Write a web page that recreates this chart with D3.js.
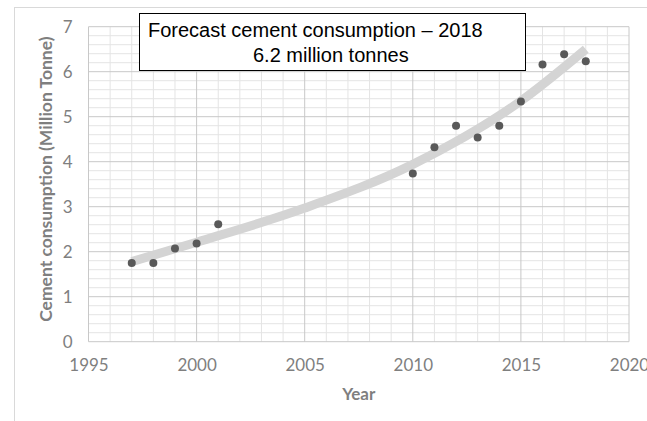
<!DOCTYPE html>
<html>
<head>
<meta charset="utf-8">
<script src="https://cdn.jsdelivr.net/npm/d3@7"></script>
<style>
  html, body { margin: 0; padding: 0; background: #fff; }
  svg { display: block; }
</style>
</head>
<body>
<svg id="chart" width="647" height="421"></svg>
<script>
// Observed annual cement consumption (million tonnes)
const years = [1997, 1998, 1999, 2000, 2001, 2010, 2011, 2012, 2013, 2014, 2015, 2016, 2017, 2018];
const consumption = [1.75, 1.75, 2.07, 2.18, 2.61, 3.74, 4.32, 4.80, 4.54, 4.80, 5.34, 6.16, 6.39, 6.23];

// Trend curve through the series
const trendYears = [1997, 2000, 2005, 2010, 2015, 2018];
const trendValues = [1.78, 2.21, 2.97, 3.94, 5.35, 6.50];

const xTicks = [1995, 2000, 2005, 2010, 2015, 2020];
const yTicks = [0, 1, 2, 3, 4, 5, 6, 7];

const titleLines = ["Forecast cement consumption \u2013 2018", "6.2 million tonnes"];
const xTitle = "Year";
const yTitle = "Cement consumption (Million Tonne)";

const svg = d3.select("#chart");
const margin = { left: 88.5, right: 647 - 629, top: 26.7, bottom: 421 - 341.7 };
const width = 647, height = 421;

const x = d3.scaleLinear().domain([1995, 2020]).range([margin.left, width - margin.right]);
const y = d3.scaleLinear().domain([0, 7]).range([height - margin.bottom, margin.top]);

// outer chart frame
svg.append("rect")
  .attr("x", 14.5).attr("y", 7.5)
  .attr("width", 700).attr("height", 500)
  .attr("fill", "#fff").attr("stroke", "#d9d9d9").attr("stroke-width", 1);

const grid = svg.append("g");
// minor gridlines
grid.selectAll("line.vminor")
  .data(d3.range(1995, 2021, 1).filter(v => v % 5 !== 0))
  .join("line")
  .attr("x1", d => x(d)).attr("x2", d => x(d))
  .attr("y1", y(0)).attr("y2", y(7))
  .attr("stroke", "#e4e4e4").attr("stroke-width", 1);
grid.selectAll("line.hminor")
  .data(d3.range(0, 7.001, 0.2).filter(v => Math.abs(v - Math.round(v)) > 0.01))
  .join("line")
  .attr("x1", x(1995)).attr("x2", x(2020))
  .attr("y1", d => y(d)).attr("y2", d => y(d))
  .attr("stroke", "#e4e4e4").attr("stroke-width", 1);
// major gridlines
grid.selectAll("line.vmajor")
  .data(xTicks)
  .join("line")
  .attr("x1", d => x(d)).attr("x2", d => x(d))
  .attr("y1", y(0)).attr("y2", y(7))
  .attr("stroke", "#c8c8c8").attr("stroke-width", 1);
grid.selectAll("line.hmajor")
  .data(yTicks)
  .join("line")
  .attr("x1", x(1995)).attr("x2", x(2020))
  .attr("y1", d => y(d)).attr("y2", d => y(d))
  .attr("stroke", "#c8c8c8").attr("stroke-width", 1);

// axis tick labels (lines hidden, labels only)
const labelFont = "Lato, 'Open Sans', sans-serif";
const xAxis = svg.append("g")
  .attr("transform", `translate(0,${y(0)})`)
  .call(d3.axisBottom(x).tickValues(xTicks).tickFormat(d3.format("d")).tickSize(0).tickPadding(17));
xAxis.select(".domain").remove();
xAxis.selectAll("text").attr("font-family", labelFont).attr("font-size", 17).attr("fill", "#7f7f7f");

const yAxis = svg.append("g")
  .attr("transform", `translate(${x(1995)},0)`)
  .call(d3.axisLeft(y).tickValues(yTicks).tickFormat(d3.format("d")).tickSize(0).tickPadding(16));
yAxis.select(".domain").remove();
yAxis.selectAll("text").attr("font-family", labelFont).attr("font-size", 17).attr("fill", "#7f7f7f");

// axis titles
svg.append("text")
  .attr("x", (x(1995) + x(2020)) / 2).attr("y", 400)
  .attr("text-anchor", "middle")
  .attr("font-family", labelFont).attr("font-size", 17).attr("font-weight", "bold")
  .attr("fill", "#7f7f7f").text(xTitle);

svg.append("text")
  .attr("transform", `translate(52,${(y(0) + y(7)) / 2 - 5}) rotate(-90)`)
  .attr("text-anchor", "middle")
  .attr("font-family", labelFont).attr("font-size", 17.5).attr("font-weight", "bold")
  .attr("fill", "#7f7f7f").text(yTitle);

// trend curve
const trend = trendYears.map((yr, i) => [yr, trendValues[i]]);
svg.append("path")
  .datum(trend)
  .attr("d", d3.line().x(d => x(d[0])).y(d => y(d[1])).curve(d3.curveMonotoneX))
  .attr("fill", "none")
  .attr("stroke", "#d4d4d4")
  .attr("stroke-width", 9);

// observations
svg.selectAll("circle.pt")
  .data(years.map((yr, i) => [yr, consumption[i]]))
  .join("circle")
  .attr("cx", d => x(d[0])).attr("cy", d => y(d[1]))
  .attr("r", 4)
  .attr("fill", "#595959");

// annotation box
const box = svg.append("g");
box.append("rect")
  .attr("x", 139.5).attr("y", 13.5)
  .attr("width", 386).attr("height", 57)
  .attr("fill", "#fff").attr("stroke", "#000").attr("stroke-width", 1);
box.append("text")
  .attr("x", 148).attr("y", 37)
  .attr("font-family", "Arial, 'Liberation Sans', sans-serif").attr("font-size", 20)
  .attr("fill", "#000").text(titleLines[0]);
box.append("text")
  .attr("x", 253).attr("y", 62)
  .attr("font-family", "Arial, 'Liberation Sans', sans-serif").attr("font-size", 20)
  .attr("fill", "#000").text(titleLines[1]);
</script>
</body>
</html>
